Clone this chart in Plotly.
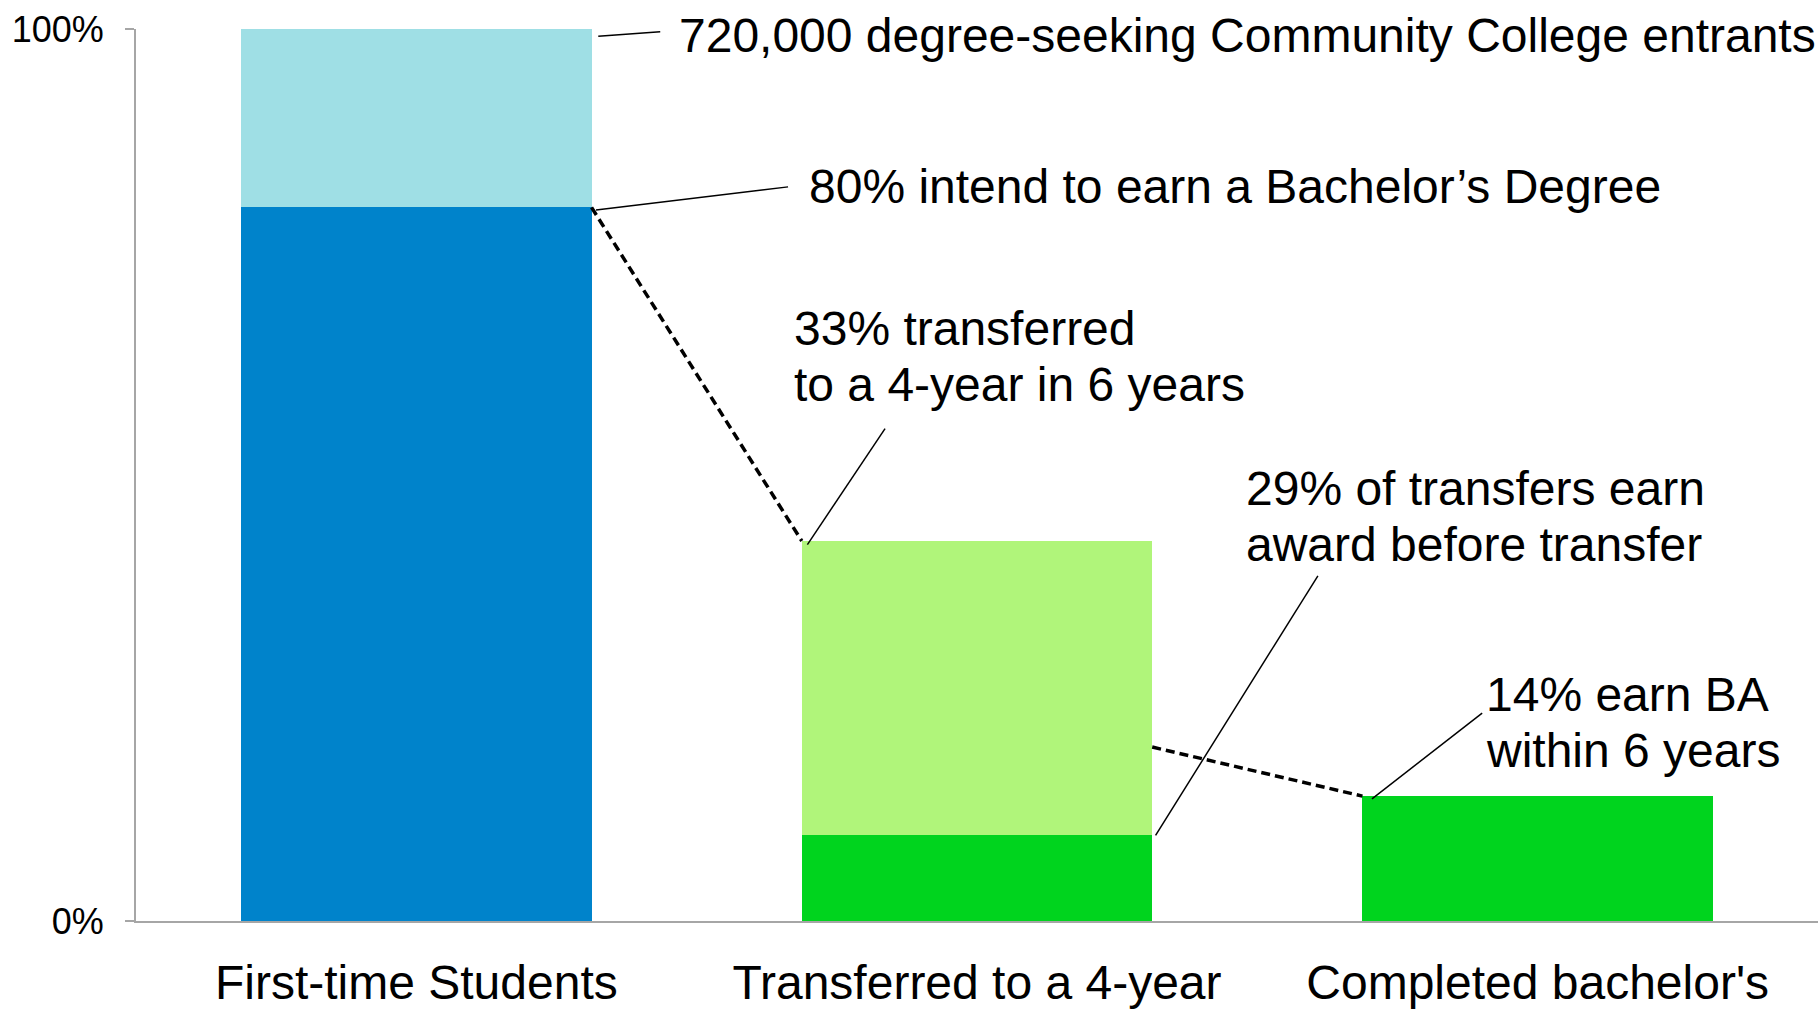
"""Community college to bachelor's pipeline chart."""

import plotly.graph_objects as go

# Categories and values (share of entrants)
categories = ["First-time Students", "Transferred to a 4-year", "Completed bachelor's"]
base_values = [0.80, 0.096, 0.14]
top_values = [0.20, 0.33, 0.0]
base_colors = ["#0083CB", "#00D41E", "#00D41E"]
top_colors = ["#9FDFE5", "#B0F57A", "#B0F57A"]

# Level where the second dashed connector leaves the transfer bar
connector_levels = [0.195]

labels = [
    ["720,000 degree-seeking Community College entrants"],
    ["80% intend to earn a Bachelor’s Degree"],
    ["33% transferred", "to a 4-year in 6 years"],
    ["29% of transfers earn", "award before transfer"],
    ["14% earn BA", "within 6 years"],
]

FONT = "Liberation Sans, Arial, sans-serif"
LABEL_SIZE = 48
LINE_STEP = 56  # px between stacked label lines
BAR_WIDTH = 0.625
half = BAR_WIDTH / 2
x_pos = list(range(len(categories)))
totals = [b + t for b, t in zip(base_values, top_values)]

fig = go.Figure()

fig.add_trace(
    go.Bar(
        x=x_pos,
        y=base_values,
        marker=dict(color=base_colors, line=dict(width=0)),
        width=BAR_WIDTH,
        hoverinfo="skip",
    )
)
fig.add_trace(
    go.Bar(
        x=x_pos,
        y=top_values,
        marker=dict(color=top_colors, line=dict(width=0)),
        width=BAR_WIDTH,
        hoverinfo="skip",
    )
)

# Dashed connectors between bars
dash_style = dict(color="black", width=3.5, dash="9px,5px")
fig.add_trace(
    go.Scatter(
        x=[x_pos[0] + half, x_pos[1] - half],
        y=[base_values[0], totals[1]],
        mode="lines",
        line=dash_style,
        hoverinfo="skip",
    )
)
fig.add_trace(
    go.Scatter(
        x=[x_pos[1] + half, x_pos[2] - half],
        y=[connector_levels[0], totals[2]],
        mode="lines",
        line=dash_style,
        hoverinfo="skip",
    )
)

# Label text positions (left edge, vertical middle) and leader-line tails
label_pos = [(0.465, 0.993), (0.697, 0.823), (0.670, 0.633), (1.476, 0.453), (1.904, 0.222)]
leader_heads = [
    (x_pos[0] + half + 0.012, totals[0] - 0.008),
    (x_pos[0] + half + 0.008, base_values[0] - 0.003),
    (x_pos[1] - half + 0.01, totals[1] - 0.004),
    (x_pos[1] + half + 0.006, base_values[1]),
    (x_pos[2] - half + 0.017, totals[2] - 0.003),
]
leader_tails = [(0.435, 0.997), (0.663, 0.823), (0.836, 0.552), (1.608, 0.387), (1.901, 0.233)]

for lines, (tx, ty) in zip(labels, label_pos):
    n = len(lines)
    for i, line in enumerate(lines):
        fig.add_annotation(
            x=tx,
            y=ty,
            xref="x",
            yref="y",
            text=line,
            showarrow=False,
            xanchor="left",
            yanchor="middle",
            align="left",
            yshift=((n - 1) / 2 - i) * LINE_STEP,
            font=dict(family=FONT, size=LABEL_SIZE, color="black"),
        )

for (hx, hy), (lx, ly) in zip(leader_heads, leader_tails):
    fig.add_shape(
        type="line",
        x0=hx,
        y0=hy,
        x1=lx,
        y1=ly,
        xref="x",
        yref="y",
        line=dict(color="black", width=1.5),
    )

fig.update_layout(
    width=1818,
    height=1009,
    barmode="stack",
    showlegend=False,
    plot_bgcolor="white",
    paper_bgcolor="white",
    margin=dict(l=136, r=0, t=29, b=84),
    font=dict(family=FONT, color="black"),
)

fig.update_xaxes(
    range=[-0.5, 2.5],
    tickvals=x_pos,
    ticktext=categories,
    tickfont=dict(family=FONT, size=48, color="black"),
    showgrid=False,
    zeroline=False,
    showline=True,
    linecolor="#A6A6A6",
    linewidth=2,
    ticks="",
    ticklabelstandoff=18,
)
fig.update_yaxes(
    range=[0, 1],
    tickvals=[0, 1],
    ticktext=["0%", "100%"],
    tickfont=dict(family=FONT, size=36, color="black"),
    showgrid=False,
    zeroline=False,
    showline=True,
    linecolor="#A6A6A6",
    linewidth=2,
    ticks="outside",
    ticklen=9,
    tickcolor="#A6A6A6",
    tickwidth=2,
    ticklabelstandoff=14,
)

fig.write_html(
    "out.html",
    config={"displayModeBar": False},
    post_script="document.body.style.margin='0';",
)
